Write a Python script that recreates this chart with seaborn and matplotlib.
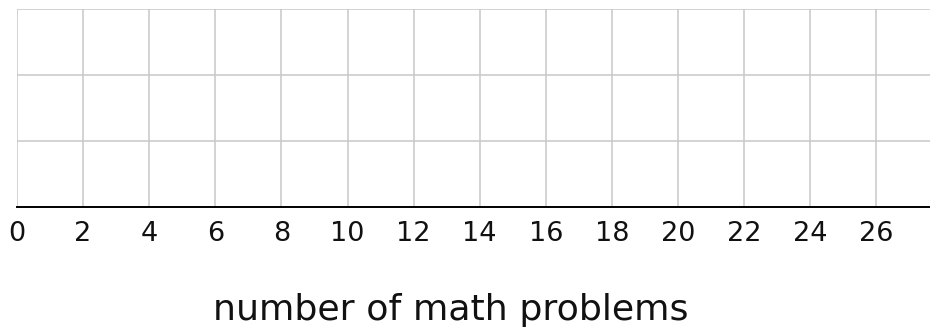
import matplotlib
matplotlib.use("Agg")
import matplotlib.pyplot as plt
import seaborn as sns

# -- data (empty dot-plot grid)
x_ticks = [0, 2, 4, 6, 8, 10, 12, 14, 16, 18, 20, 22, 24, 26]
y_levels = [0, 1, 2, 3]
x_label = "number of math problems"

sns.set_style("white")
plt.rcParams['font.family'] = ['DejaVu Sans']

W, H = 930, 332
fig = plt.figure(figsize=(W / 100, H / 100), dpi=100)
ax = fig.add_axes([17 / W, (H - 207.3) / H, (W - 17) / W, (207.3 - 8.5) / H])

ax.set_xlim(0, (W - 17) / 33.05)
ax.set_ylim(0, 3)
ax.set_xticks(x_ticks)
ax.set_yticks(y_levels)
ax.set_yticklabels([])
ax.grid(True, color="#c8c8c8", linewidth=1.1)
ax.set_axisbelow(True)
for s in ["top", "right", "left"]:
    ax.spines[s].set_visible(False)
ax.spines["bottom"].set_color("black")
ax.spines["bottom"].set_linewidth(1.4)
ax.spines["bottom"].set_zorder(5)
ax.tick_params(axis="both", length=0)
ax.tick_params(axis="x", labelsize=19.5, pad=10, colors="#111111")
ax.set_xlabel(x_label, fontsize=26.2, color="#111111")
# label sits a bit left of the axes centre
ax.xaxis.set_label_coords((450.5 - 17) / (W - 17), (207.3 - 293) / (207.3 - 8.5))

fig.savefig("out.png", dpi=100)
plt.close(fig)
